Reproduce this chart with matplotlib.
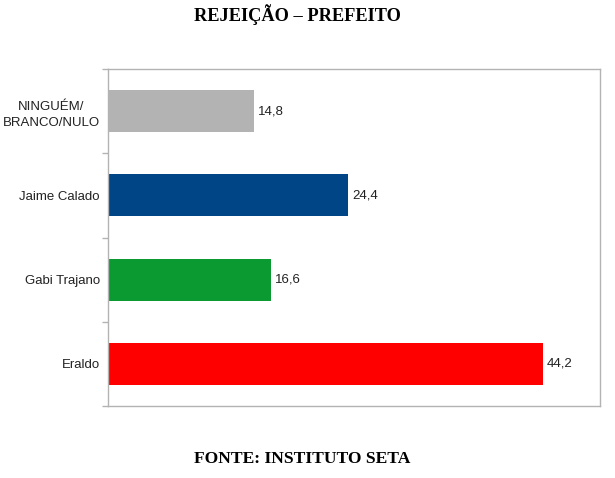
import matplotlib.pyplot as plt

categories = ["Eraldo", "Gabi Trajano", "Jaime Calado", "NINGUÉM/\nBRANCO/NULO"]
values = [44.2, 16.6, 24.4, 14.8]
colors = ["#ff0000", "#0b9a32", "#004586", "#b3b3b3"]
value_labels = ["44,2", "16,6", "24,4", "14,8"]

plt.rcParams["font.family"] = ["Liberation Sans", "DejaVu Sans"]

fig = plt.figure(figsize=(6.15, 4.78), dpi=100)
ax = fig.add_axes([108 / 615, 1 - 406 / 478, 492 / 615, 337 / 478])

pos = range(len(categories))
ax.barh(pos, values, height=0.5, color=colors)
for y, v, lab in zip(pos, values, value_labels):
    ax.text(v + 0.4, y, lab, va="center", ha="left", fontsize=9.5, color="#222222")

ax.set_xlim(0, 50)
ax.set_ylim(-0.5, 3.5)
ax.set_xticks([])
ax.set_yticks([-0.5, 0.5, 1.5, 2.5, 3.5])
ax.set_yticklabels([])
ax.set_yticks(list(pos), minor=True)
ax.set_yticklabels(categories, minor=True, fontsize=9.5, color="#222222",
                   multialignment="center", linespacing=1.45)
ax.tick_params(axis="y", which="major", length=4, color="#b3b3b3", width=1)
ax.tick_params(axis="y", which="minor", length=0, pad=6)
for s in ax.spines.values():
    s.set_color("#b3b3b3")
    s.set_linewidth(1)

fig.text(297.5 / 615, 1 - 15 / 478, "REJEIÇÃO – PREFEITO", ha="center", va="center",
         fontsize=13.2, fontweight="bold", family=["Liberation Serif", "DejaVu Serif"])
fig.text(302.5 / 615, 1 - 459 / 478, "FONTE: INSTITUTO SETA", ha="center", va="center",
         fontsize=12.6, fontweight="bold", family=["Liberation Serif", "DejaVu Serif"])

fig.savefig("out.png", dpi=100)
